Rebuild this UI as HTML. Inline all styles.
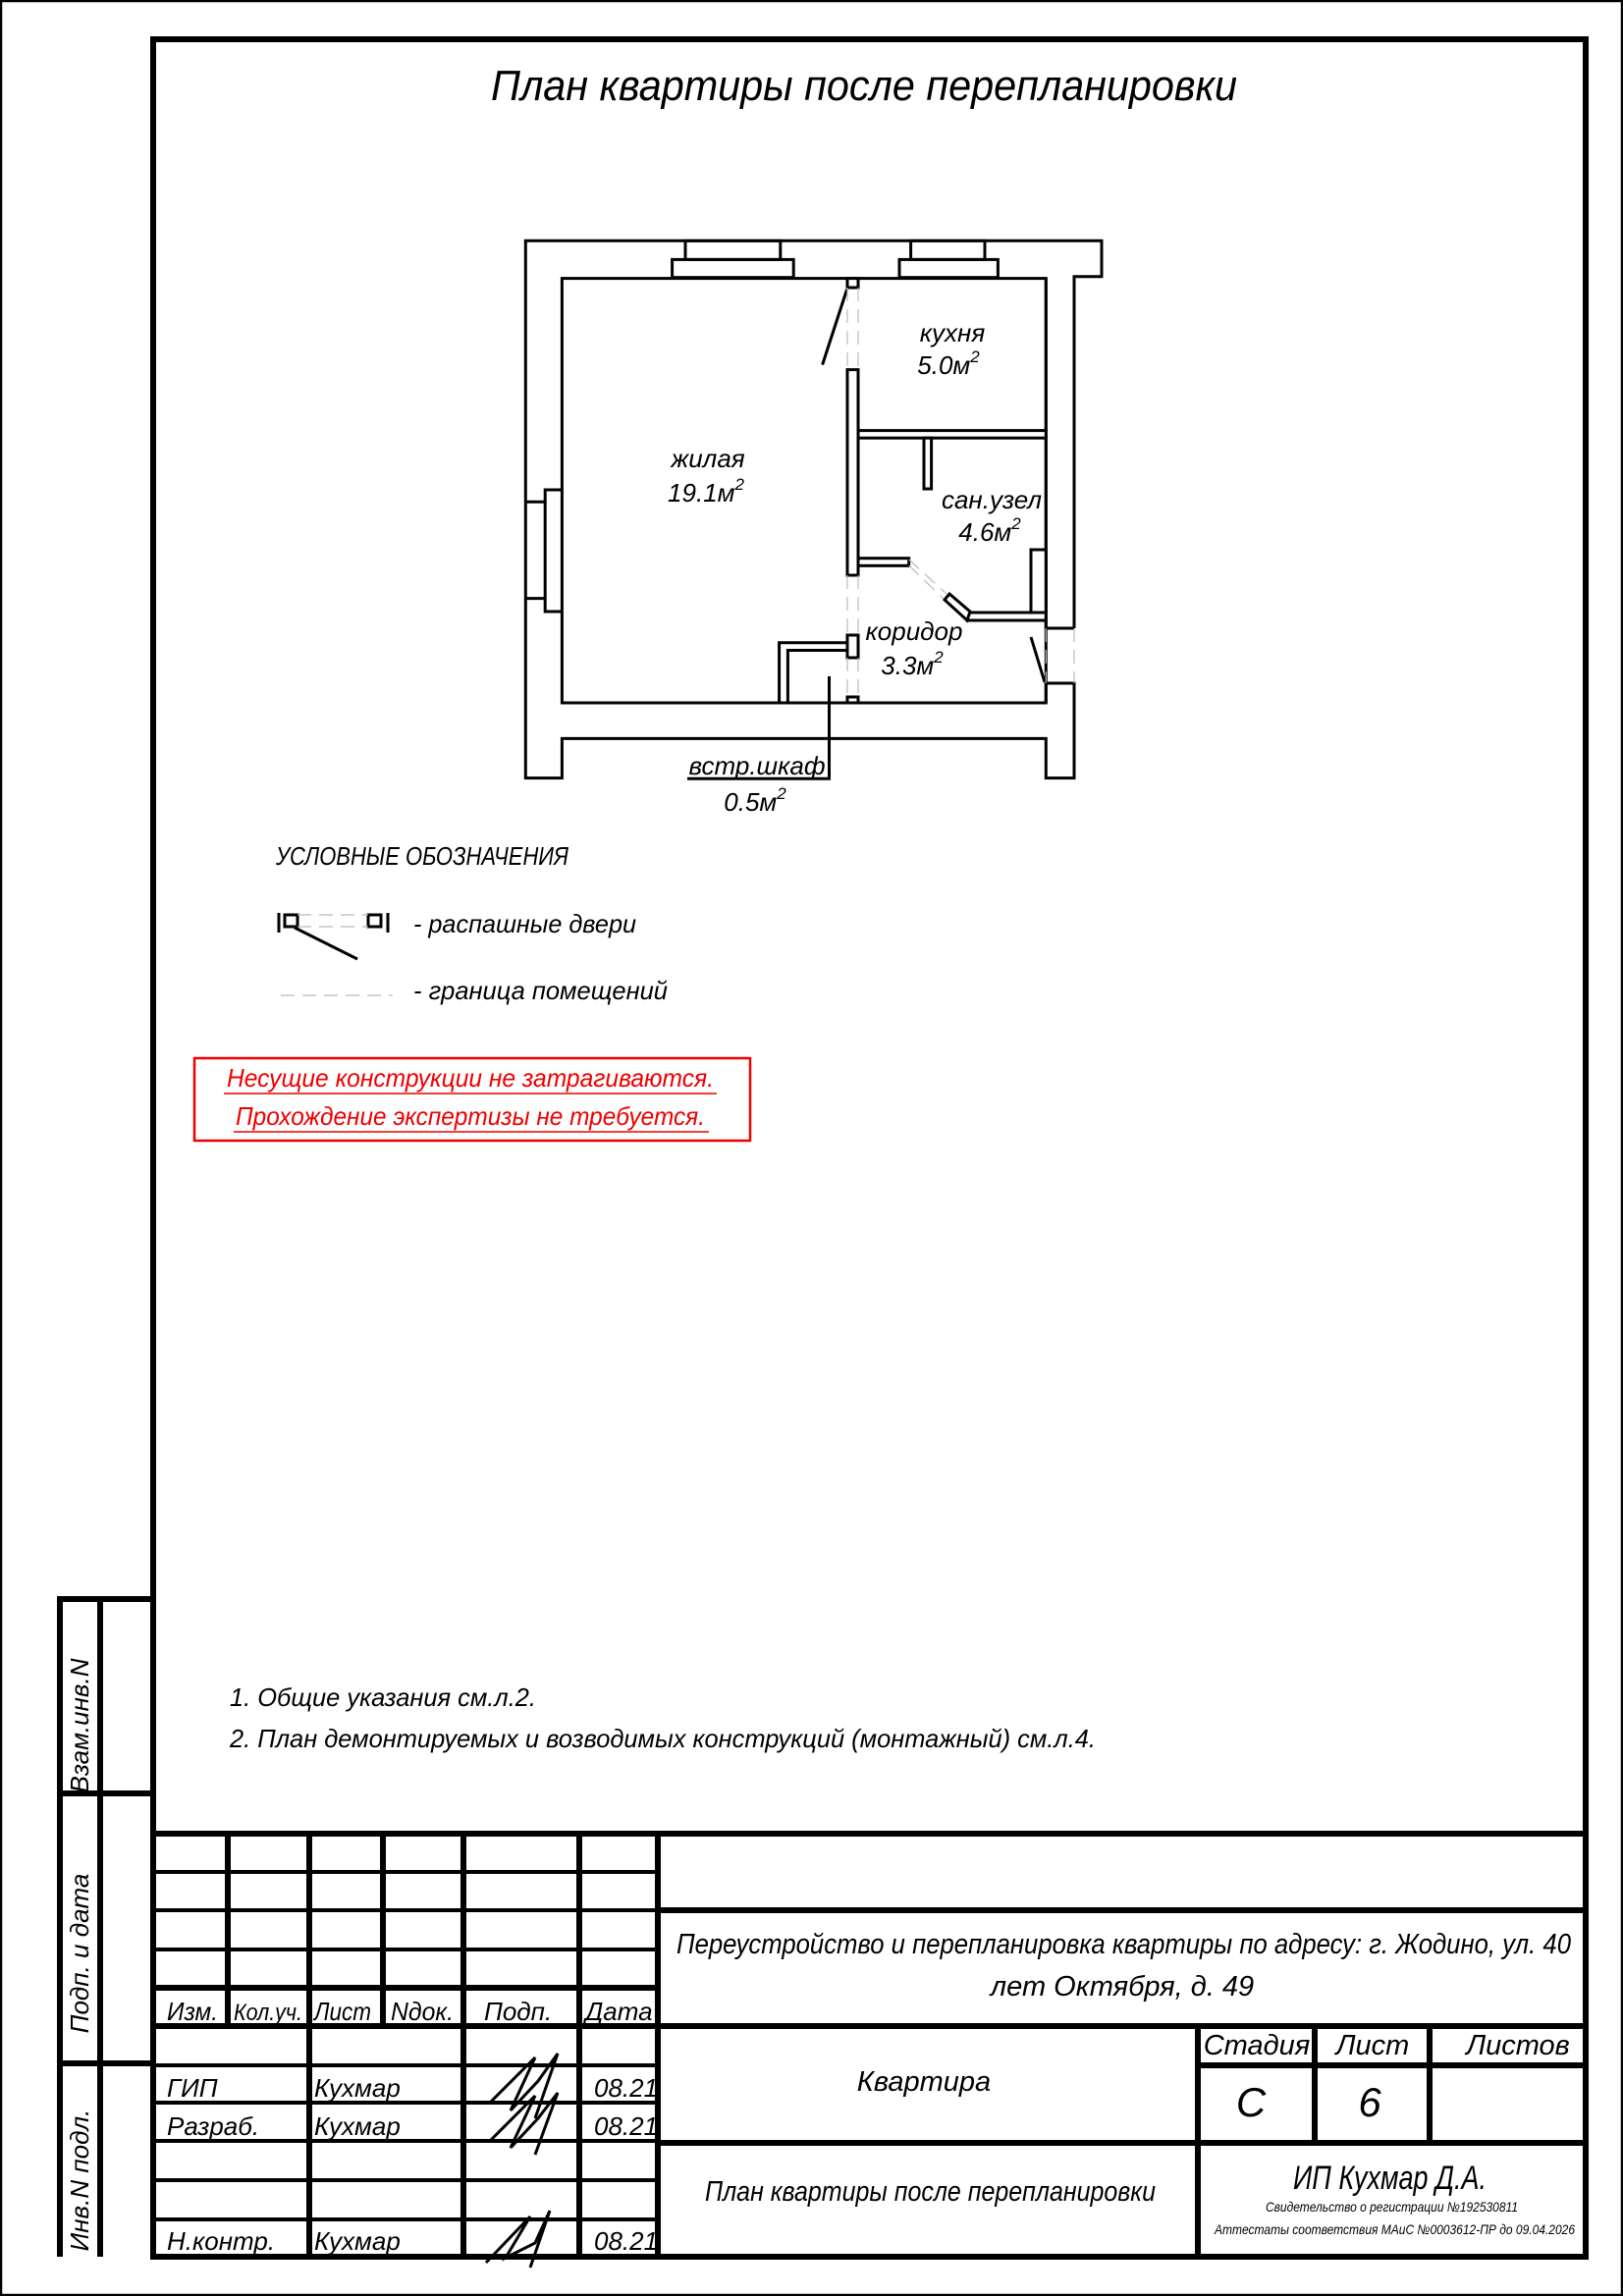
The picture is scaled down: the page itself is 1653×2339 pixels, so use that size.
<!DOCTYPE html>
<html><head><meta charset="utf-8">
<style>
html,body{margin:0;padding:0;background:#fff;}
svg{display:block;}
text{font-family:"Liberation Sans Narrow","Liberation Sans",sans-serif;font-style:italic;fill:#000;}
</style></head>
<body>
<svg width="1653" height="2339" viewBox="0 0 1653 2339" xmlns="http://www.w3.org/2000/svg">
<rect x="1" y="1" width="1651" height="2337" fill="none" stroke="#000" stroke-width="2.5"/>
<rect x="156" y="40" width="1459" height="2259" fill="none" stroke="#000" stroke-width="6"/>
<text x="500" y="102" font-size="44" textLength="760" lengthAdjust="spacingAndGlyphs">План квартиры после перепланировки</text>

<!-- floor plan -->
<g fill="none" stroke="#000" stroke-width="3">
<polyline points="1094,640 1094,281.7 1122,281.7 1122,245.3 535.3,245.3 535.3,792.6 572.4,792.6 572.4,752.4 1065.3,752.4 1065.3,792.6 1094,792.6 1094,696 1065.3,696 1065.3,716"/>
<polyline points="1094,640 1065.3,640 1065.3,283.6"/>
<rect x="698" y="245.3" width="96.8" height="19.1"/>
<rect x="927.6" y="245.3" width="75.4" height="19.1"/>
<rect x="684.6" y="264.4" width="123.6" height="18.3"/>
<rect x="916" y="264.4" width="100.4" height="18.3"/>
<rect x="572.4" y="283.6" width="492.9" height="432.4"/>
<polyline points="535.3,511.3 555.2,511.3 555.2,499 572.4,499"/>
<polyline points="535.3,609.6 555.2,609.6 555.2,623 572.4,623"/>
<line x1="555.2" y1="511.3" x2="555.2" y2="609.6"/>
</g>
<g fill="#fff" stroke="#000" stroke-width="3">
<rect x="863" y="283.6" width="11" height="9.4"/>
<rect x="863" y="376.6" width="11" height="209.4"/>
<rect x="863" y="647" width="11" height="23"/>
<rect x="863" y="710" width="11" height="6"/>
<rect x="874" y="438.6" width="191.3" height="7.6"/>
<rect x="941" y="446.2" width="7.6" height="51.8"/>
<rect x="874" y="568.7" width="51.7" height="7.6"/>
<rect x="985" y="624" width="80.3" height="8"/>
<rect x="1050" y="560" width="15.3" height="64"/>
<polygon points="962,611 967,605 988,623 985,632"/>
</g>
<g fill="none" stroke="#000" stroke-width="3">
<polyline points="793.6,716 793.6,654.8 863,654.8"/>
<polyline points="802.4,716 802.4,662.5 863,662.5"/>
<line x1="862.5" y1="295" x2="837.6" y2="371.6"/>
<line x1="1050" y1="649" x2="1064" y2="695"/>
<polyline points="844.5,689 844.5,793.3 700,793.3"/>
</g>
<g stroke="#bbb" stroke-width="1.2" stroke-dasharray="14,8" fill="none">
<line x1="863" y1="293" x2="863" y2="376.6"/><line x1="874" y1="293" x2="874" y2="376.6"/>
<line x1="863" y1="586" x2="863" y2="647"/><line x1="874" y1="586" x2="874" y2="647"/>
<line x1="863" y1="670" x2="863" y2="710"/><line x1="874" y1="670" x2="874" y2="710"/>
<line x1="1065.3" y1="640" x2="1065.3" y2="696"/><line x1="1094" y1="640" x2="1094" y2="696"/>
<line x1="925.7" y1="570" x2="964" y2="605"/><line x1="925.7" y1="576" x2="961" y2="610"/>
</g>
<g font-size="26" text-anchor="middle">
<text x="970" y="348">кухня</text><text x="966" y="381">5.0м<tspan font-size="17" dy="-12">2</tspan></text>
<text x="721" y="476">жилая</text><text x="719" y="511">19.1м<tspan font-size="17" dy="-12">2</tspan></text>
<text x="1010" y="518">сан.узел</text><text x="1008" y="551">4.6м<tspan font-size="17" dy="-12">2</tspan></text>
<text x="931" y="652">коридор</text><text x="929" y="687">3.3м<tspan font-size="17" dy="-12">2</tspan></text>
<text x="771" y="789">встр.шкаф</text><text x="769" y="826">0.5м<tspan font-size="17" dy="-12">2</tspan></text>
</g>

<!-- legend -->
<text x="281" y="881" font-size="26" textLength="298" lengthAdjust="spacingAndGlyphs">УСЛОВНЫЕ ОБОЗНАЧЕНИЯ</text>
<g stroke="#000" stroke-width="3" fill="#fff">
<rect x="290" y="932" width="13" height="12"/><rect x="375" y="932" width="13" height="12"/>
<line x1="284" y1="930" x2="284" y2="950"/><line x1="395" y1="930" x2="395" y2="950"/>
<line x1="300" y1="945" x2="364" y2="977"/>
</g>
<g stroke="#bbb" stroke-width="1.2" stroke-dasharray="14,8"><line x1="303" y1="932" x2="375" y2="932"/><line x1="303" y1="944" x2="375" y2="944"/><line x1="286" y1="1014" x2="400" y2="1014"/></g>
<text x="421" y="950" font-size="26" textLength="227" lengthAdjust="spacingAndGlyphs">- распашные двери</text>
<text x="421" y="1018" font-size="26" textLength="259" lengthAdjust="spacingAndGlyphs">- граница помещений</text>

<!-- red box -->
<rect x="198" y="1078" width="566" height="84" fill="none" stroke="#e00" stroke-width="2.5"/>
<text x="231" y="1107" font-size="26" style="fill:#e00" textLength="496" lengthAdjust="spacingAndGlyphs">Несущие конструкции не затрагиваются.</text>
<text x="240" y="1146" font-size="26" style="fill:#e00" textLength="478" lengthAdjust="spacingAndGlyphs">Прохождение экспертизы не требуется.</text>
<line x1="228" y1="1114" x2="730" y2="1114" stroke="#e00" stroke-width="1.5"/>
<line x1="238" y1="1153" x2="722" y2="1153" stroke="#e00" stroke-width="1.5"/>

<!-- notes -->
<text x="234" y="1738" font-size="26" textLength="312" lengthAdjust="spacingAndGlyphs">1.  Общие указания см.л.2.</text>
<text x="234" y="1780" font-size="26" textLength="882" lengthAdjust="spacingAndGlyphs">2.  План демонтируемых и возводимых конструкций (монтажный) см.л.4.</text>

<!-- left strip -->
<g stroke="#000" stroke-width="6" fill="none">
<polyline points="156,1629 61,1629 61,2299"/>
<line x1="102" y1="1629" x2="102" y2="2299"/>
<line x1="61" y1="1827" x2="156" y2="1827"/>
<line x1="61" y1="2102" x2="156" y2="2102"/>
</g>
<g font-size="26">
<text transform="translate(90,1758) rotate(-90)" text-anchor="middle">Взам.инв.N</text>
<text transform="translate(90,1990) rotate(-90)" text-anchor="middle">Подп. и дата</text>
<text transform="translate(90,2221) rotate(-90)" text-anchor="middle">Инв.N подл.</text>
</g>

<!-- title block -->
<g stroke="#000" fill="none">
<line x1="156" y1="1868" x2="1615" y2="1868" stroke-width="6"/>
<g stroke-width="4">
<line x1="156" y1="1907" x2="670" y2="1907"/>
<line x1="156" y1="1946" x2="670" y2="1946"/>
<line x1="156" y1="1986" x2="670" y2="1986"/>
<line x1="156" y1="2142" x2="670" y2="2142"/>
<line x1="156" y1="2181" x2="670" y2="2181"/>
<line x1="156" y1="2221" x2="670" y2="2221"/>
<line x1="156" y1="2261" x2="670" y2="2261"/>
<line x1="156" y1="2104" x2="670" y2="2104"/>
</g>
<g stroke-width="6">
<line x1="156" y1="2025" x2="670" y2="2025"/>
<line x1="156" y1="2064" x2="1615" y2="2064"/>
<line x1="670" y1="1946" x2="1615" y2="1946"/>
<line x1="670" y1="2183" x2="1615" y2="2183"/>
<line x1="1220" y1="2104" x2="1615" y2="2104"/>
<line x1="670" y1="1868" x2="670" y2="2299"/>
<line x1="1220" y1="2064" x2="1220" y2="2299"/>
<line x1="1339" y1="2064" x2="1339" y2="2183"/>
<line x1="1456" y1="2064" x2="1456" y2="2183"/>
<line x1="232" y1="1868" x2="232" y2="2064"/>
<line x1="390" y1="1868" x2="390" y2="2064"/>
<line x1="315" y1="1868" x2="315" y2="2299"/>
<line x1="472" y1="1868" x2="472" y2="2299"/>
<line x1="590" y1="1868" x2="590" y2="2299"/>
</g>
</g>
<g font-size="26">
<text x="170" y="2058" textLength="52" lengthAdjust="spacingAndGlyphs">Изм.</text><text x="238" y="2058" font-size="24" textLength="70" lengthAdjust="spacingAndGlyphs">Кол.уч.</text>
<text x="320" y="2058" textLength="58" lengthAdjust="spacingAndGlyphs">Лист</text><text x="398" y="2058" textLength="64" lengthAdjust="spacingAndGlyphs">Nдок.</text>
<text x="493" y="2058">Подп.</text><text x="596" y="2058">Дата</text>
<text x="170" y="2136">ГИП</text><text x="320" y="2136">Кухмар</text><text x="605" y="2136">08.21</text>
<text x="170" y="2175">Разраб.</text><text x="320" y="2175">Кухмар</text><text x="605" y="2175">08.21</text>
<text x="170" y="2292">Н.контр.</text><text x="320" y="2292">Кухмар</text><text x="605" y="2292">08.21</text>
</g>
<g stroke="#000" stroke-width="3" fill="none">
<path d="M500,2141 L545,2096 L520,2150 L548,2120 L568,2092 L545,2158"/>
<path d="M500,2180 L545,2135 L520,2188 L548,2158 L568,2132 L545,2195"/>
<path d="M495,2305 L540,2258 L515,2300 L545,2285 L560,2252 L540,2310"/>
</g>
<g font-size="29">
<text x="689" y="1990" textLength="911" lengthAdjust="spacingAndGlyphs">Переустройство и перепланировка квартиры по адресу: г. Жодино, ул. 40</text>
<text x="1143" y="2033" text-anchor="middle">лет Октября, д. 49</text>
<text x="941" y="2130" text-anchor="middle">Квартира</text>
<text x="1280" y="2093" text-anchor="middle">Стадия</text><text x="1398" y="2093" text-anchor="middle">Лист</text><text x="1546" y="2093" text-anchor="middle">Листов</text>
<text x="1274" y="2156" font-size="42" text-anchor="middle">С</text><text x="1395" y="2156" font-size="42" text-anchor="middle">6</text>
<text x="718" y="2242" textLength="459" lengthAdjust="spacingAndGlyphs">План квартиры после перепланировки</text>
<text x="1317" y="2230" font-size="34" textLength="197" lengthAdjust="spacingAndGlyphs">ИП Кухмар Д.А.</text>
<text x="1289" y="2253" font-size="14" textLength="257" lengthAdjust="spacingAndGlyphs">Свидетельство о регистрации №192530811</text>
<text x="1237" y="2276" font-size="14" textLength="367" lengthAdjust="spacingAndGlyphs">Аттестаты соответствия МАиС №0003612-ПР до 09.04.2026</text>
</g>
</svg>
</body></html>
